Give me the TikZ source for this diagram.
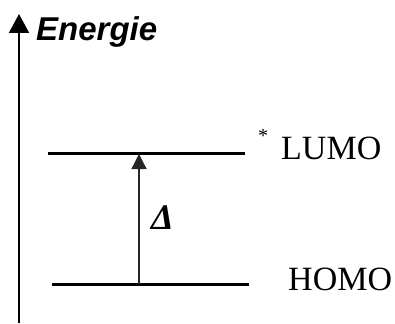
\documentclass[tikz,border=0pt]{standalone}
\usepackage{fontspec}
\setmainfont{Liberation Serif}
\newfontfamily\lsans{Liberation Sans}
\usetikzlibrary{arrows.meta}
\tikzset{
  level/.style={line width=3pt},
  axis/.style={line width=2pt,-{Triangle[width=20pt,length=19pt]}},
  gap/.style={line width=1.3pt,draw=black!85,-{Triangle[width=15pt,length=15pt]}},
  lbl/.style={inner sep=0pt,anchor=base west,font=\fontsize{34}{38}\selectfont},
}
\begin{document}
\begin{tikzpicture}[x=1pt,y=-1pt]
\useasboundingbox (0,0) rectangle (395,323);
% axis
\coordinate (a0) at (19,323);
\coordinate (a1) at (19,14);
\draw[axis] (a0) -- (a1);
\node[inner sep=0pt,anchor=base west,font=\lsans\bfseries\itshape\fontsize{33}{36}\selectfont] (en) at (36,41) {Energie};
% levels
\coordinate (l0) at (48,153);
\coordinate (l1) at (245,153);
\coordinate (h0) at (52,284);
\coordinate (h1) at (249,284);
\draw[level] (l0) -- (l1);
\draw[level] (h0) -- (h1);
% gap arrow
\coordinate (g0) at (139,284);
\coordinate (g1) at (139,154);
\draw[gap] (g0) -- (g1);
\node[inner sep=0pt,anchor=base west,font=\bfseries\itshape\fontsize{36}{40}\selectfont] (delta) at (151,229) {Δ};
% labels
\node[lbl] (lumo) at (281,159) {LUMO};
\node[inner sep=0pt,font=\fontsize{20}{22}\selectfont] (star) at (263,136) {*};
\node[lbl] (homo) at (288,290) {HOMO};
\end{tikzpicture}
\end{document}
